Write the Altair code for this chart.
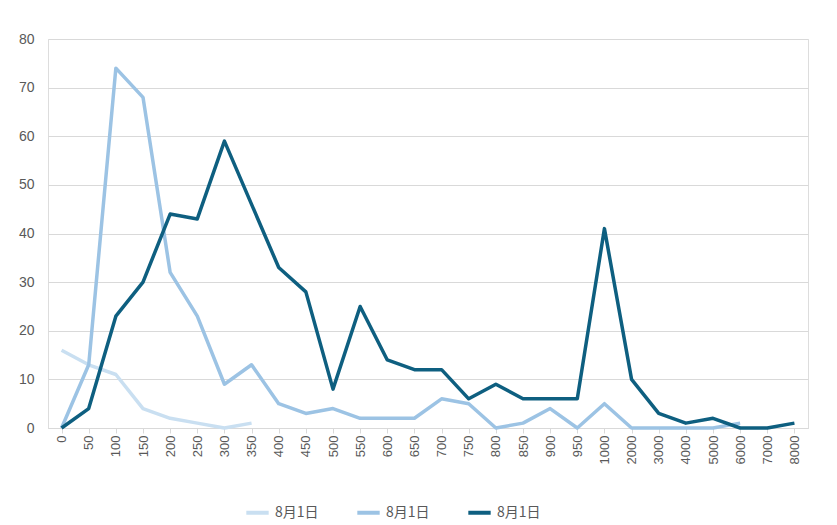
import altair as alt
import pandas as pd

categories = ["0", "50", "100", "150", "200", "250", "300", "350", "400", "450", "500",
              "550", "600", "650", "700", "750", "800", "850", "900", "950", "1000",
              "2000", "3000", "4000", "5000", "6000", "7000", "8000"]
series_a = [16, 13, 11, 4, 2, 1, 0, 1]
series_b = [0, 13, 74, 68, 32, 23, 9, 13, 5, 3, 4, 2, 2, 2, 6, 5, 0, 1, 4, 0, 5,
            0, 0, 0, 0, 1]
series_c = [0, 4, 23, 30, 44, 43, 59, 46, 33, 28, 8, 25, 14, 12, 12, 6, 9, 6, 6, 6, 41,
            10, 3, 1, 2, 0, 0, 1]

rows = []
for key, vals in (("a", series_a), ("b", series_b), ("c", series_c)):
    for i, v in enumerate(vals):
        rows.append({"x": categories[i], "order": i, "y": v, "s": key})
df = pd.DataFrame(rows)

chart = alt.Chart(df).mark_line(strokeWidth=3.5, strokeJoin="round").encode(
    x=alt.X("x:N", sort=categories, title=None,
            scale=alt.Scale(paddingOuter=0.5),
            axis=alt.Axis(labelAngle=270, labelFontSize=13, labelColor="#595959",
                          domainColor="#d9d9d9", tickColor="#d9d9d9", ticks=True,
                          labelFont="Liberation Sans", labelAlign="right", labelBaseline="middle")),
    y=alt.Y("y:Q", title=None,
            scale=alt.Scale(domain=[0, 80]),
            axis=alt.Axis(values=list(range(0, 81, 10)), labelFontSize=14, labelColor="#595959",
                          domain=False, ticks=False, gridColor="#d9d9d9", labelPadding=14,
                          labelFont="Liberation Sans")),
    color=alt.Color("s:N", scale=alt.Scale(domain=["a", "b", "c"],
                                           range=["#c9dff1", "#9cc3e4", "#0e5f80"]),
                    legend=alt.Legend(orient="none", legendX=196, legendY=460, direction="horizontal",
                                      title=None, labelExpr="'8月1日'",
                                      symbolType="stroke", symbolStrokeWidth=4, symbolSize=500,
                                      labelFontSize=14, labelColor="#595959",
                                      labelFont="Noto Sans CJK JP", columnPadding=30)),
    order="order:Q",
).properties(width=760, height=389, padding={"left": 10, "top": 24, "right": 18, "bottom": 10}
).configure_view(stroke=None).configure(background="white")

chart.save("out.html", embed_options={"renderer": "svg", "actions": False})
